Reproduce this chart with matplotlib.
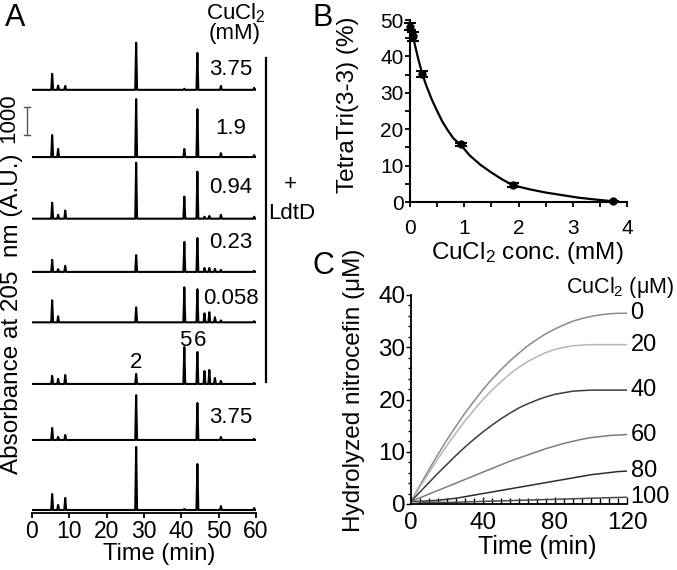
import matplotlib
matplotlib.use("Agg")
import matplotlib.pyplot as plt
from matplotlib.ticker import MultipleLocator
import numpy as np

plt.rcParams["font.family"] = ["Liberation Sans", "DejaVu Sans"]
plt.rcParams["mathtext.fontset"] = "custom"
plt.rcParams["mathtext.rm"] = "Liberation Sans"
plt.rcParams["mathtext.it"] = "Liberation Sans:italic"

# ---------------- panel A: chromatogram peak tables (A.U.) ----------------
peak_times = [5.4, 7.0, 8.9, 27.9, 40.8, 44.3, 46.2, 47.5, 49.0, 50.6, 59.5]
trace_cu_375_ldtd = [570, 150, 140, 1680, 40, 1320, 0, 0, 0, 140, 70]
trace_cu_19_ldtd = [785, 290, 0, 2070, 290, 1710, 0, 0, 0, 140, 70]
trace_cu_094_ldtd = [570, 140, 290, 2000, 790, 1680, 70, 100, 0, 140, 70]
trace_cu_023_ldtd = [430, 100, 215, 600, 1070, 1210, 140, 140, 110, 70, 40]
trace_cu_0058_ldtd = [785, 215, 0, 535, 1250, 1180, 320, 360, 180, 70, 40]
trace_cu_0_ldtd = [290, 180, 320, 360, 1320, 1140, 460, 500, 215, 110, 40]
trace_cu_375_only = [430, 110, 180, 1600, 0, 1320, 0, 0, 0, 110, 40]
trace_blank = [570, 180, 430, 2250, 40, 1640, 0, 0, 0, 140, 70]
traces = [trace_cu_375_ldtd, trace_cu_19_ldtd, trace_cu_094_ldtd, trace_cu_023_ldtd,
          trace_cu_0058_ldtd, trace_cu_0_ldtd, trace_cu_375_only, trace_blank]
trace_labels = ["3.75", "1.9", "0.94", "0.23", "0.058", "", "3.75", ""]

# ---------------- panel B ----------------
cu_mm = [0.0, 0.058, 0.23, 0.94, 1.9, 3.75]
tetratri_pct = [48.2, 45.5, 35.2, 15.8, 4.6, 0.2]
tetratri_err = [1.0, 1.2, 0.8, 0.5, 0.5, 0.2]
fit_x = [0, 0.058, 0.1, 0.15, 0.23, 0.3, 0.4, 0.5, 0.6, 0.7, 0.8, 0.94, 1.1,
         1.3, 1.5, 1.7, 1.9, 2.2, 2.5, 2.8, 3.1, 3.4, 3.75]
fit_y = [48, 45.3, 42.6, 39.4, 35.0, 32.0, 28.2, 25.0, 22.0, 19.6, 17.5, 15.6,
         12.8, 10.2, 8.1, 6.2, 4.6, 3.5, 2.6, 1.9, 1.2, 0.7, 0.2]

# ---------------- panel C ----------------
time_min = list(range(0, 121, 5))
cucl2_um = ["0", "20", "40", "60", "80", "100"]
nitro = [
    [0.5, 3.6, 6.6, 9.5, 12.3, 14.9, 17.4, 19.7, 21.9, 23.9, 25.7, 27.4, 28.9,
     30.3, 31.5, 32.6, 33.5, 34.3, 35.0, 35.5, 35.9, 36.2, 36.4, 36.5, 36.5],
    [0.5, 3.3, 6.0, 8.7, 11.2, 13.6, 15.9, 18.0, 20.0, 21.8, 23.4, 24.9, 26.2,
     27.3, 28.2, 29.0, 29.6, 30.0, 30.3, 30.4, 30.5, 30.5, 30.5, 30.5, 30.5],
    [0.5, 2.3, 4.1, 5.9, 7.6, 9.3, 10.9, 12.4, 13.8, 15.1, 16.3, 17.4, 18.4,
     19.2, 19.9, 20.5, 21.0, 21.3, 21.6, 21.7, 21.8, 21.8, 21.8, 21.8, 21.8],
    [0.5, 1.2, 1.9, 2.6, 3.3, 4.0, 4.7, 5.4, 6.1, 6.8, 7.5, 8.2, 8.8,
     9.4, 10.0, 10.6, 11.1, 11.6, 12.0, 12.4, 12.7, 12.9, 13.1, 13.2, 13.3],
    [0.5, 0.5, 0.6, 0.7, 0.9, 1.1, 1.4, 1.7, 2.0, 2.3, 2.6, 2.9, 3.2,
     3.5, 3.8, 4.1, 4.4, 4.7, 5.0, 5.3, 5.6, 5.8, 6.0, 6.2, 6.3],
    [0.5, 0.4, 0.3, 0.3, 0.3, 0.35, 0.4, 0.45, 0.5, 0.55, 0.6, 0.65, 0.7,
     0.75, 0.8, 0.85, 0.9, 0.95, 1.0, 1.05, 1.1, 1.15, 1.2, 1.25, 1.3],
]
nitro_colors = ["#8a8a8a", "#b5b5b5", "#3c3c3c", "#7c7c7c", "#2e2e2e", "#4a4a4a"]

W, H = 677, 570
fig = plt.figure(figsize=(W / 100, H / 100), dpi=100)


def box(l, t, r, b):
    return [l / W, 1 - b / H, (r - l) / W, (b - t) / H]


# ================= A =================
axA = fig.add_axes(box(32, 30, 256, 513))
offsets = [15000, 12600, 10400, 8500, 6700, 4500, 2500, 0]
label_dy = [715, 1035, 1100, 1035, 860, 0, 785, 0]
half_w = 0.25
for vals, off, lab, dy in zip(traces, offsets, trace_labels, label_dy):
    xs, ys = [0.0], [0.0]
    for t, h in zip(peak_times, vals):
        if h > 0:
            xs += [t - half_w, t, t + half_w]
            ys += [0.0, h, 0.0]
    xs.append(60.0)
    ys.append(0.0)
    axA.plot(xs, np.array(ys) + off, color="black", lw=1.5)
    if lab:
        axA.text(53.3, off + dy, lab, ha="center", va="center", fontsize=16)

axA.set_xlim(0, 60)
axA.set_ylim(-107, 17136)
for s in ["left", "top", "right"]:
    axA.spines[s].set_visible(False)
axA.spines["bottom"].set_linewidth(1.3)
axA.set_yticks([])
axA.xaxis.set_major_locator(MultipleLocator(10))
axA.tick_params(axis="x", direction="out", length=3.6, width=1.3, labelsize=16.5, pad=1.5)
axA.set_xlabel("Time (min)", fontsize=17, labelpad=0)
axA.xaxis.set_label_coords((159 - 32) / 224, -0.062)

# peak numbers
axA.text(27.9, 4500 + 750, "2", ha="center", va="center", fontsize=16)
axA.text(41.0, 4500 + 1550, "5", ha="center", va="center", fontsize=16)
axA.text(45.0, 4500 + 1550, "6", ha="center", va="center", fontsize=16)

# bracket for + LdtD
axA.plot([62.7, 62.7], [4570, 16140], color="black", lw=1.6, clip_on=False)
fig.text(290 / W, 1 - 185 / H, "+", ha="center", va="center", fontsize=16)
fig.text(292 / W, 1 - 213 / H, "LdtD", ha="center", va="center", fontsize=16)
fig.text(236 / W, 1 - 13 / H, r"CuCl$_2$", ha="center", va="center", fontsize=16)
fig.text(235 / W, 1 - 34 / H, "(mM)", ha="center", va="center", fontsize=16)

# scale bar
xb = -1.35
yb0, yb1 = 13390, 14390
axA.plot([xb, xb], [yb0, yb1], color="#555555", lw=1.0, clip_on=False)
for yy in (yb0, yb1):
    axA.plot([xb - 0.9, xb + 0.9], [yy, yy], color="#555555", lw=1.0, clip_on=False)
fig.text(9 / W, 1 - 118 / H, "1000", rotation=90, ha="center", va="center", fontsize=16)
fig.text(12 / W, 1 - 314 / H, "Absorbance at 205  nm (A.U.)", rotation=90,
         ha="center", va="center", fontsize=17.5)
fig.text(15 / W, 1 - 18 / H, "A", ha="center", va="center", fontsize=22)

# ================= B =================
axB = fig.add_axes(box(410, 20, 627, 202))
axB.plot(fit_x, fit_y, color="black", lw=1.6)
axB.errorbar(cu_mm, tetratri_pct, yerr=tetratri_err, fmt="o", color="black",
             ms=5, capsize=4, elinewidth=1.5, capthick=1.5, clip_on=False)
axB.set_xlim(0, 4)
axB.set_ylim(0, 50)
for s in ["top", "right"]:
    axB.spines[s].set_visible(False)
for s in ["left", "bottom"]:
    axB.spines[s].set_linewidth(1.5)
axB.xaxis.set_major_locator(MultipleLocator(1))
axB.xaxis.set_minor_locator(MultipleLocator(0.5))
axB.yaxis.set_major_locator(MultipleLocator(10))
axB.yaxis.set_minor_locator(MultipleLocator(5))
axB.tick_params(which="both", direction="out", width=1.3, length=3.6, labelsize=15)
axB.tick_params(axis="x", which="both", pad=9)
axB.tick_params(axis="y", which="both", pad=1)
axB.set_xlabel(r"CuCl$_2$ conc. (mM)", fontsize=17.5, labelpad=2)
axB.xaxis.set_label_coords((527 - 410) / 217, -0.21)
axB.set_ylabel("TetraTri(3-3) (%)", fontsize=17.5, labelpad=1)
axB.yaxis.set_label_coords(-0.235, 0.533)
fig.text(323 / W, 1 - 18 / H, "B", ha="center", va="center", fontsize=22)

# ================= C =================
axC = fig.add_axes(box(411, 295, 627, 504))
for vals, col, lab in zip(nitro, nitro_colors, cucl2_um):
    axC.plot(time_min, vals, color=col, lw=1.1)
    axC.text(122, vals[-1], lab, ha="left", va="center", fontsize=17)
axC.set_xlim(0, 120)
axC.set_ylim(0, 40)
for s in ["top", "right"]:
    axC.spines[s].set_visible(False)
for s in ["left", "bottom"]:
    axC.spines[s].set_linewidth(1.3)
axC.xaxis.set_major_locator(MultipleLocator(40))
axC.xaxis.set_minor_locator(MultipleLocator(5))
axC.yaxis.set_major_locator(MultipleLocator(10))
axC.yaxis.set_minor_locator(MultipleLocator(2))
axC.tick_params(axis="x", which="both", direction="in", width=1.0, labelsize=17.5, pad=6)
axC.tick_params(axis="x", which="major", length=5)
axC.tick_params(axis="x", which="minor", length=4)
axC.tick_params(axis="y", which="both", direction="out", width=1.0, labelsize=17.5, pad=0.5)
axC.tick_params(axis="y", which="major", length=3.5)
axC.tick_params(axis="y", which="minor", length=2.5)
axC.set_xlabel("Time (min)", fontsize=18, labelpad=1)
axC.xaxis.set_label_coords((537 - 411) / 216, -0.15)
axC.set_ylabel("Hydrolyzed nitrocefin (μM)", fontsize=17.5, labelpad=2)
axC.yaxis.set_label_coords(-0.215, 0.545)
fig.text(566 / W, 1 - 287 / H, r"CuCl$_2$ (μM)", ha="left", va="center", fontsize=15.5)
fig.text(323 / W, 1 - 266 / H, "C", ha="center", va="center", fontsize=22)

fig.savefig("out.png", dpi=100)
